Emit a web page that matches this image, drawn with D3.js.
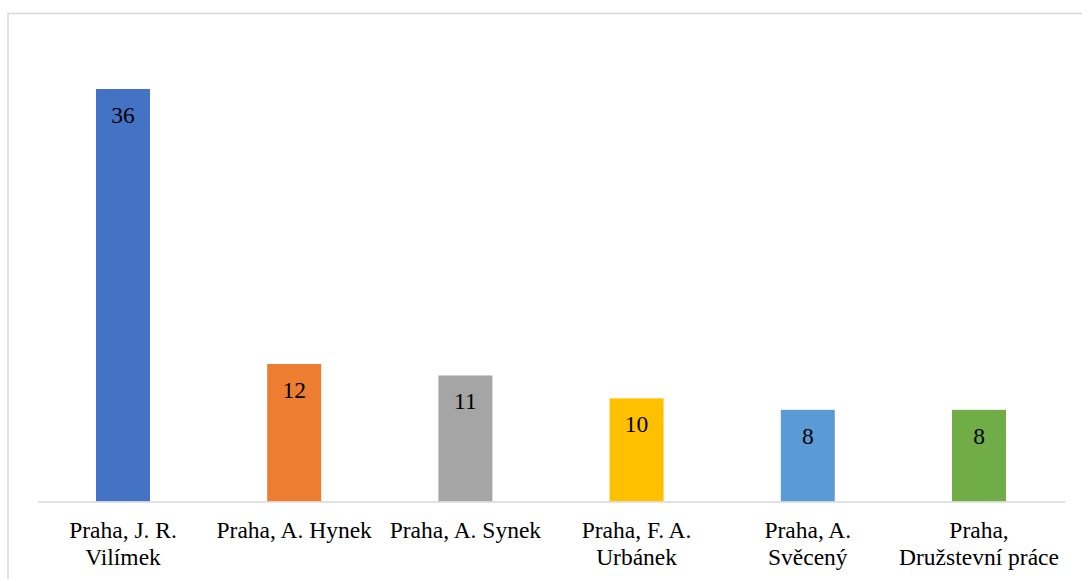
<!DOCTYPE html>
<html>
<head>
<meta charset="utf-8">
<script src="https://cdn.jsdelivr.net/npm/d3@7"></script>
<style>
  html, body { margin: 0; padding: 0; background: #ffffff; }
  svg { display: block; }
</style>
</head>
<body>
<svg id="chart" width="1082" height="579"></svg>
<script>
// Category labels (line breaks as in the original)
const categories = [
  "Praha, J. R.\nVilímek",
  "Praha, A. Hynek",
  "Praha, A. Synek",
  "Praha, F. A.\nUrbánek",
  "Praha, A.\nSvěcený",
  "Praha,\nDružstevní práce"
];
// Bar heights as drawn in the picture
const values = [36, 12, 11, 9, 8, 8];
// Data labels as printed on the bars
const valueLabels = ["36", "12", "11", "10", "8", "8"];
const colors = ["#4472C4", "#ED7D31", "#A5A5A5", "#FFC000", "#5B9BD5", "#70AD47"];

const svg = d3.select("#chart");
const W = 1082, H = 579;
const font = "'Times New Roman', 'Liberation Serif', serif";

// Chart frame
svg.append("rect")
  .attr("x", 8).attr("y", 13.5)
  .attr("width", W + 20).attr("height", H + 20)
  .attr("fill", "#ffffff")
  .attr("stroke", "#d9d9d9").attr("stroke-width", 1.5);

const plot = { left: 37.4, right: 1064.6, top: 89, bottom: 501.5 };

const x = d3.scaleBand()
  .domain(d3.range(categories.length))
  .range([plot.left, plot.right])
  .paddingInner(0.6846).paddingOuter(0.3423);

const y = d3.scaleLinear()
  .domain([0, 36])
  .range([plot.bottom, plot.top]);

// Bars
svg.append("g").selectAll("rect")
  .data(values)
  .join("rect")
  .attr("x", (d, i) => x(i))
  .attr("y", d => y(d))
  .attr("width", x.bandwidth())
  .attr("height", d => y(0) - y(d))
  .attr("fill", (d, i) => colors[i]);

// Data labels
svg.append("g").selectAll("text")
  .data(values)
  .join("text")
  .attr("x", (d, i) => x(i) + x.bandwidth() / 2)
  .attr("y", d => y(d) + 34)
  .attr("text-anchor", "middle")
  .attr("font-family", font)
  .attr("font-size", "23.5px")
  .attr("fill", "#000000")
  .text((d, i) => valueLabels[i]);

// X axis
const xAxis = d3.axisBottom(x).tickSize(0).tickFormat("");
const gx = svg.append("g")
  .attr("transform", `translate(0,${plot.bottom})`)
  .call(xAxis);
gx.select(".domain").attr("stroke", "#d9d9d9").attr("stroke-width", 1.5);

// Category labels
const lab = svg.append("g").selectAll("text")
  .data(categories)
  .join("text")
  .attr("text-anchor", "middle")
  .attr("font-family", font)
  .attr("font-size", "23.5px")
  .attr("fill", "#000000")
  .attr("transform", (d, i) => `translate(${x(i) + x.bandwidth() / 2},${plot.bottom + 36.5})`);
lab.each(function(d) {
  const t = d3.select(this);
  d.split("\n").forEach((line, k) => {
    t.append("tspan").attr("x", 0).attr("y", k * 27).text(line);
  });
});
</script>
</body>
</html>
